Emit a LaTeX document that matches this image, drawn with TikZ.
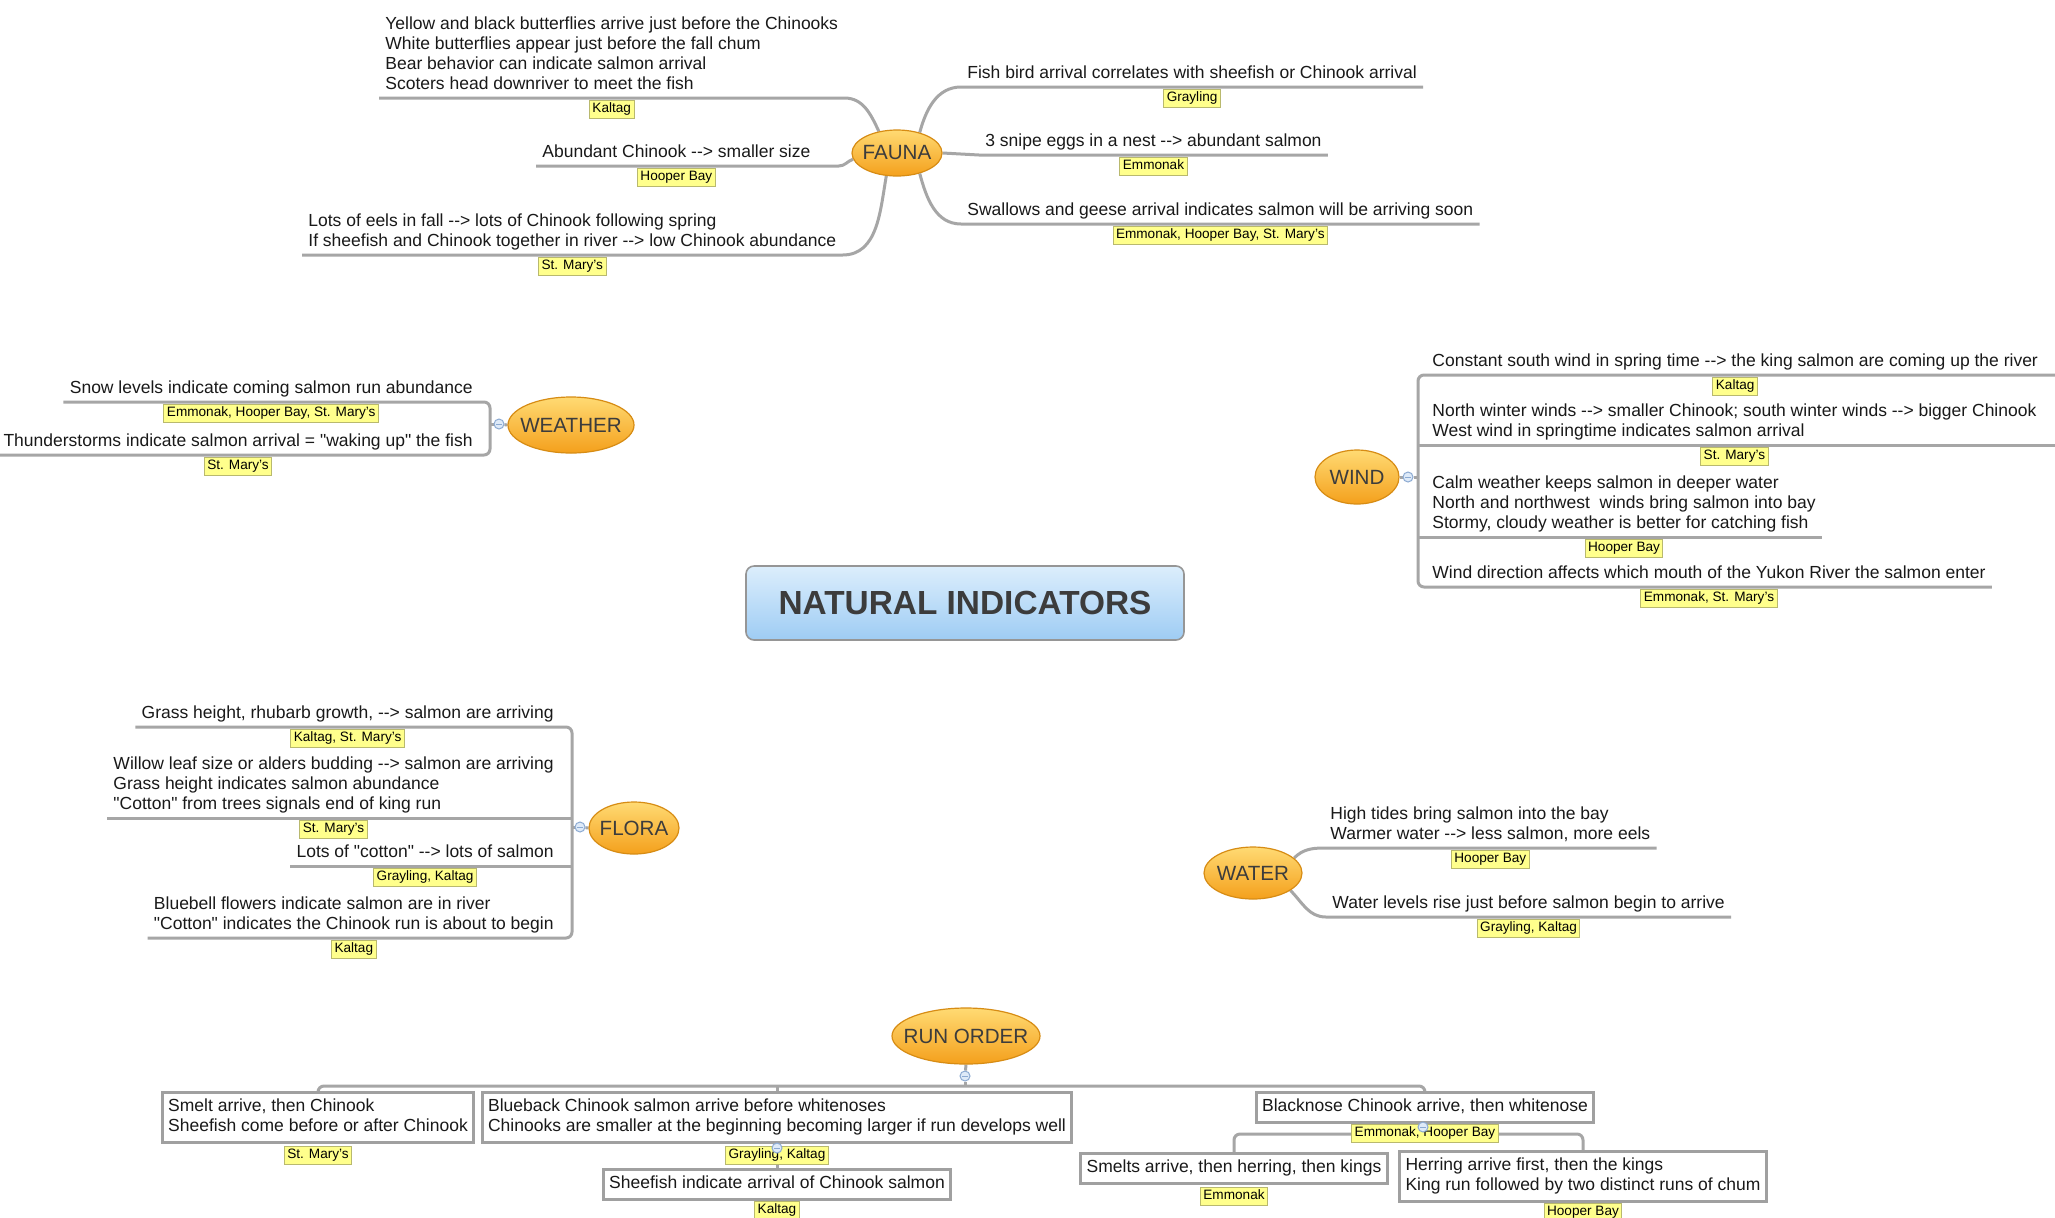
\documentclass[tikz,border=0pt]{standalone}
\usepackage{fontspec}
\setmainfont{Liberation Sans}
\usetikzlibrary{positioning,shapes.geometric}
\pgfdeclarelayer{bg}
\pgfsetlayers{bg,main}
\definecolor{linkgray}{RGB}{166,166,166}
\definecolor{boxgray}{RGB}{160,160,160}
\definecolor{tagfill}{RGB}{255,255,140}
\definecolor{tagdraw}{RGB}{185,185,110}
\definecolor{ortop}{RGB}{255,218,115}
\definecolor{orbot}{RGB}{244,160,28}
\definecolor{ordraw}{RGB}{215,140,20}
\definecolor{bltop}{RGB}{220,238,252}
\definecolor{blbot}{RGB}{158,204,244}
\definecolor{titletext}{RGB}{60,60,60}
\definecolor{knobfill}{RGB}{222,234,248}
\definecolor{knobdraw}{RGB}{140,170,210}
\definecolor{txtcol}{RGB}{25,25,25}
\newcommand\lns{\rule[-3pt]{0pt}{10pt}}
\newcommand\qq{\textquotedbl}
\begin{document}
\begin{tikzpicture}[x=0.5pt,y=-0.5pt,
  link/.style={draw=linkgray, line width=1.5pt},
  topic/.style={inner xsep=3pt, inner ysep=1.25pt, align=left, font=\fontsize{8.75}{10}\selectfont, text=txtcol},
  rbox/.style={rectangle, draw=boxgray, line width=1.5pt, fill=white, inner xsep=3pt, inner ysep=2.5pt, align=left, font=\fontsize{8.75}{10}\selectfont, text=txtcol},
  tagbox/.style={rectangle, draw=tagdraw, fill=tagfill, line width=0.5pt, inner xsep=1.5pt, inner ysep=1.2pt, text height=5pt, text depth=1.5pt, font=\fontsize{6.8}{8}\selectfont, text=black},
  ell/.style={ellipse, draw=ordraw, line width=0.6pt, top color=ortop, bottom color=orbot, inner sep=0pt, font=\fontsize{10.3}{12}\selectfont, text=titletext},
  knob/.style={circle, draw=knobdraw, fill=knobfill, line width=0.5pt, inner sep=0pt, minimum size=5pt,
    path picture={\draw[knobdraw, line width=0.5pt] ([xshift=-1.5pt]path picture bounding box.center) -- ([xshift=1.5pt]path picture bounding box.center);}},
  titlebox/.style={rectangle, rounded corners=4pt, draw={rgb,255:red,150;green,150;blue,150}, line width=0.8pt, top color=bltop, bottom color=blbot, minimum width=219pt, minimum height=37pt, font=\fontsize{16.7}{20}\selectfont\bfseries, text=titletext}
]
\useasboundingbox (0,0) rectangle (2055,1217);
\coordinate (Rlim) at (2055,0);

% ---------- title ----------
\node[titlebox] (title) at (965,603) {NATURAL INDICATORS};

% ---------- main ellipses ----------
\node[ell, minimum width=45pt, minimum height=23pt] (fauna) at (897,153) {\makebox[0pt]{FAUNA}};
\node[ell, minimum width=63pt, minimum height=28pt] (weather) at (571,425) {\makebox[0pt]{WEATHER}};
\node[ell, minimum width=42pt, minimum height=27pt] (wind) at (1357,477) {\makebox[0pt]{WIND}};
\node[ell, minimum width=45pt, minimum height=26pt] (flora) at (634,828) {\makebox[0pt]{FLORA}};
\node[ell, minimum width=49pt, minimum height=26pt] (water) at (1253,873) {\makebox[0pt]{WATER}};
\node[ell, minimum width=74pt, minimum height=28pt] (runorder) at (966,1036) {\makebox[0pt]{RUN ORDER}};

% ---------- FAUNA ----------
\node[topic, anchor=south west] (fa1) at (379,98) {\lns Yellow and black butterflies arrive just before the Chinooks\\\lns White butterflies appear just before the fall chum\\\lns Bear behavior can indicate salmon arrival\\\lns Scoters head downriver to meet the fish};
\node[topic, anchor=south west] (fa2) at (536,166) {\lns Abundant Chinook {-}{-}> smaller size};
\node[topic, anchor=south west] (fa3) at (302,255) {\lns Lots of eels in fall {-}{-}> lots of Chinook following spring\\\lns If sheefish and Chinook together in river {-}{-}> low Chinook abundance};
\node[topic, anchor=south west] (fb1) at (961,87) {\lns Fish bird arrival correlates with sheefish or Chinook arrival};
\node[topic, anchor=south west] (fb2) at (979,155) {\lns 3 snipe eggs in a nest {-}{-}> abundant salmon};
\node[topic, anchor=south west] (fb3) at (961,224) {\lns Swallows and geese arrival indicates salmon will be arriving soon};
\node[tagbox, below=1pt of fa1] (tfa1) {Kaltag};
\node[tagbox, below=1pt of fa2] (tfa2) {Hooper Bay};
\node[tagbox, below=1pt of fa3] (tfa3) {St. Mary's};
\node[tagbox, below=1pt of fb1] (tfb1) {Grayling};
\node[tagbox, below=1pt of fb2] (tfb2) {Emmonak};
\node[tagbox, below=1pt of fb3] (tfb3) {Emmonak, Hooper Bay, St. Mary's};

% ---------- WEATHER ----------
\coordinate (wbT) at (490,402);
\coordinate (wbB) at (490,455);
\node[topic, anchor=south east] (we1) at (479,402) {\lns Snow levels indicate coming salmon run abundance};
\node[topic, anchor=south east] (we2) at (479,455) {\lns Thunderstorms indicate salmon arrival = \qq waking up\qq{} the fish};
\node[tagbox, below=1pt of we1] (twe1) {Emmonak, Hooper Bay, St. Mary's};
\node[tagbox, below=1pt of we2] (twe2) {St. Mary's};
\node[knob] (kwe) at (499,424) {};

% ---------- WIND ----------
\coordinate (wiT) at (1418,375);
\coordinate (wiB) at (1418,587);
\node[topic, anchor=south west] (wi1) at (1426,375) {\lns Constant south wind in spring time {-}{-}> the king salmon are coming up the river};
\node[topic, anchor=south west] (wi2) at (1426,445) {\lns North winter winds {-}{-}> smaller Chinook; south winter winds {-}{-}> bigger Chinook\\\lns West wind in springtime indicates salmon arrival};
\node[topic, anchor=south west] (wi3) at (1426,537) {\lns Calm weather keeps salmon in deeper water\\\lns North and northwest\ \ winds bring salmon into bay\\\lns Stormy, cloudy weather is better for catching fish};
\node[topic, anchor=south west] (wi4) at (1426,587) {\lns Wind direction affects which mouth of the Yukon River the salmon enter};
\node[tagbox, below=1pt of wi1] (twi1) {Kaltag};
\node[tagbox, below=1pt of wi2] (twi2) {St. Mary's};
\node[tagbox, below=1pt of wi3] (twi3) {Hooper Bay};
\node[tagbox, below=1pt of wi4] (twi4) {Emmonak, St. Mary's};
\node[knob] (kwi) at (1408,477) {};

% ---------- FLORA ----------
\coordinate (flT) at (572,727);
\coordinate (flB) at (572,938);
\node[topic, anchor=south east] (fl1) at (560,727) {\lns Grass height, rhubarb growth, {-}{-}> salmon are arriving};
\node[topic, anchor=south east] (fl2) at (560,818) {\lns Willow leaf size or alders budding {-}{-}> salmon are arriving\\\lns Grass height indicates salmon abundance\\\lns \qq Cotton\qq{} from trees signals end of king run};
\node[topic, anchor=south east] (fl3) at (560,866) {\lns Lots of \qq cotton\qq{} {-}{-}> lots of salmon};
\node[topic, anchor=south east] (fl4) at (560,938) {\lns Bluebell flowers indicate salmon are in river\\\lns \qq Cotton\qq{} indicates the Chinook run is about to begin};
\node[tagbox, below=1pt of fl1] (tfl1) {Kaltag, St. Mary's};
\node[tagbox, below=1pt of fl2] (tfl2) {St. Mary's};
\node[tagbox, below=1pt of fl3] (tfl3) {Grayling, Kaltag};
\node[tagbox, below=1pt of fl4] (tfl4) {Kaltag};
\node[knob] (kfl) at (580,827) {};

% ---------- WATER ----------
\node[topic, anchor=south west] (wa1) at (1324,848) {\lns High tides bring salmon into the bay\\\lns Warmer water {-}{-}> less salmon, more eels};
\node[topic, anchor=south west] (wa2) at (1326,917) {\lns Water levels rise just before salmon begin to arrive};
\node[tagbox, below=1pt of wa1] (twa1) {Hooper Bay};
\node[tagbox, below=1pt of wa2] (twa2) {Grayling, Kaltag};

% ---------- RUN ORDER ----------
\coordinate (busY) at (0,1086);
\coordinate (sbY) at (0,1134);
\node[rbox, anchor=north] (r1) at (318,1091) {\lns Smelt arrive, then Chinook\\\lns Sheefish come before or after Chinook};
\node[rbox, anchor=north] (r2) at (777,1091) {\lns Blueback Chinook salmon arrive before whitenoses\\\lns Chinooks are smaller at the beginning becoming larger if run develops well};
\node[rbox, anchor=north] (r2a) at (777,1168) {\lns Sheefish indicate arrival of Chinook salmon};
\node[rbox, anchor=north] (r3) at (1425,1091) {\lns Blacknose Chinook arrive, then whitenose};
\node[rbox, anchor=north] (r3a) at (1234,1152) {\lns Smelts arrive, then herring, then kings};
\node[rbox, anchor=north] (r3b) at (1583,1150) {\lns Herring arrive first, then the kings\\\lns King run followed by two distinct runs of chum};
\node[tagbox, below=1pt of r1] (tr1) {St. Mary's};
\node[tagbox, below=1pt of r2] (tr2) {Grayling, Kaltag};
\node[tagbox, below=0pt of r2a] (tr2a) {Kaltag};
\node[tagbox, below=0pt of r3] (tr3) {Emmonak, Hooper Bay};
\node[tagbox, below=1pt of r3a] (tr3a) {Emmonak};
\node[tagbox, below=0pt of r3b] (tr3b) {Hooper Bay};
\node[knob] (kro) at (965,1076) {};
\node[knob] (kr2) at (777,1148) {};
\node[knob] (kr3) at (1423,1127) {};

% ---------- connectors (behind) ----------
\begin{pgfonlayer}{bg}
  \fill[white] (0,0) rectangle (2055,1217);
  % FAUNA left
  \draw[link] (fa1.south west) -- (fa1.south east) to[out=0,in=115] (fauna.130);
  \draw[link] (fa2.south west) -- (fa2.south east) -- ++(22,0) to[out=0,in=200] (fauna.188);
  \draw[link] (fa3.south west) -- (fa3.south east) to[out=0,in=260] (fauna.245);
  % FAUNA right
  \draw[link] (fauna.42) to[out=75,in=180] (fb1.south west) -- (fb1.south east);
  \draw[link] (fauna.east) -- (fb2.south west) -- (fb2.south east);
  \draw[link] (fauna.-42) to[out=-75,in=180] (fb3.south west) -- (fb3.south east);
  % WEATHER
  \draw[link, rounded corners=3pt] (we1.south west) -- (wbT) -- (wbB) -- (we2.south west);
  \draw[link] (weather.west) -- (kwe);
  \draw[link] (kwe) -- (kwe -| wbT);
  % WIND
  \draw[link, rounded corners=3pt] (wi1.south -| Rlim) -- (wiT) -- (wiB) -- (wi4.south east);
  \draw[link] (wi2.south -| wiT) -- (wi2.south -| Rlim);
  \draw[link] (wi3.south -| wiT) -- (wi3.south east);
  \draw[link] (wind.east) -- (kwi);
  \draw[link] (kwi) -- (kwi -| wiT);
  % FLORA
  \draw[link, rounded corners=3pt] (fl1.south west) -- (flT) -- (flB) -- (fl4.south west);
  \draw[link] (fl2.south west) -- (fl2.south -| flT);
  \draw[link] (fl3.south west) -- (fl3.south -| flT);
  \draw[link] (flora.west) -- (kfl);
  \draw[link] (kfl) -- (kfl -| flT);
  % WATER
  \draw[link] (water.20) to[out=45,in=180] (wa1.south west) -- (wa1.south east);
  \draw[link] (water.-25) to[out=-45,in=180] (wa2.south west) -- (wa2.south east);
  % RUN ORDER
  \draw[link] (runorder.south) -- (kro);
  \draw[link] (kro) -- (kro |- busY);
  \draw[link, rounded corners=3pt] (r1.north) -- (r1.north |- busY) -- (r3.north |- busY) -- (r3.north);
  \draw[link] (r2.north |- busY) -- (r2.north);
  \draw[link] (r2.south) -- (r2a.north);
  \draw[link] (r3.south) -- (r3.south |- sbY);
  \draw[link, rounded corners=3pt] (r3a.north) -- (r3a.north |- sbY) -- (r3b.north |- sbY) -- (r3b.north);
\end{pgfonlayer}
\end{tikzpicture}
\end{document}
